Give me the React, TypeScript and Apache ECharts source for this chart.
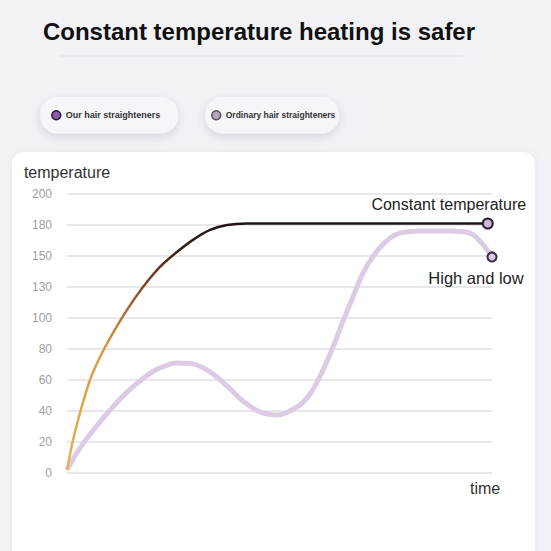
import React, { useEffect, useRef } from "react";
import * as echarts from "echarts";

const titleText = "Constant temperature heating is safer";
const seriesNames = ["Our hair straighteners", "Ordinary hair straighteners"];
const yTickLabels = ["0", "20", "40", "60", "80", "100", "130", "150", "180", "200"];

// x in percent of time span, y in tick-step units (index into yTickLabels)
const constantX = [0, 1.41, 3.06, 5.41, 7.76, 10.12, 14.12, 17.88, 21.88, 25.88, 29.65, 33.65, 37.65, 42.35, 55, 70, 85, 99];
const constantY = [0.1, 1.06, 1.94, 3.0, 3.74, 4.35, 5.26, 6.0, 6.65, 7.13, 7.52, 7.84, 8.0, 8.05, 8.05, 8.05, 8.05, 8.05];

const ordinaryX = [0, 3.06, 6.59, 10.12, 14.12, 18.35, 21.88, 25.88, 29.65, 33.65, 37.65, 41.41, 45.41, 49.41, 54.12, 57.18, 60.24, 62.59, 64.94, 67.29, 69.65, 72.94, 76, 78.35, 83.06, 90.12, 94.82, 100];
const ordinaryY = [0.1, 0.81, 1.45, 2.03, 2.61, 3.1, 3.39, 3.55, 3.52, 3.26, 2.81, 2.32, 1.97, 1.87, 2.13, 2.55, 3.32, 4.06, 4.9, 5.68, 6.45, 7.16, 7.58, 7.74, 7.81, 7.81, 7.74, 6.97];

const endLabels = ["Constant temperature", "High and low"];

export default function App() {
  const ref = useRef<HTMLDivElement>(null);
  useEffect(() => {
    document.body.style.margin = "0";
    const chart = echarts.init(ref.current!, null, { renderer: "svg" });
    const font = "'Liberation Sans', Arial, sans-serif";

    const constantData = constantX.map((x, i) => {
      if (i === constantX.length - 1) {
        return {
          value: [x, constantY[i]],
          symbol: "circle",
          symbolSize: 10,
          itemStyle: { color: "#cbb9da", borderColor: "#2a1e30", borderWidth: 2 },
          label: {
            show: true,
            position: "top",
            formatter: endLabels[0],
            color: "#222",
            fontSize: 16,
            offset: [-39, 0],
          },
        };
      }
      return { value: [x, constantY[i]], symbol: "none" };
    });

    const ordinaryData = ordinaryX.map((x, i) => {
      if (i === ordinaryX.length - 1) {
        return {
          value: [x, ordinaryY[i]],
          symbol: "circle",
          symbolSize: 9,
          itemStyle: { color: "#d9cbe2", borderColor: "#3a2a44", borderWidth: 2 },
          label: {
            show: true,
            position: "bottom",
            formatter: endLabels[1],
            color: "#222",
            fontSize: 16.5,
            offset: [-16, 2],
          },
        };
      }
      return { value: [x, ordinaryY[i]], symbol: "none" };
    });

    chart.setOption({
      animation: false,
      backgroundColor: "#f2f1f6",
      textStyle: { fontFamily: font },
      graphic: [
        {
          type: "rect",
          z: -10,
          shape: { x: 12, y: 152, width: 523, height: 420, r: 12 },
          style: { fill: "#ffffff", shadowBlur: 6, shadowColor: "rgba(0,0,0,0.05)" },
        },
        {
          type: "text",
          x: 259,
          y: 31,
          style: {
            text: titleText,
            fontSize: 24,
            fontWeight: "bold",
            fontFamily: font,
            fill: "#111",
            align: "center",
            verticalAlign: "middle",
          },
        },
        {
          type: "line",
          shape: { x1: 60, y1: 56, x2: 463, y2: 56 },
          style: { stroke: "#e2e1e8", lineWidth: 1 },
        },
      ],
      legend: [
        {
          left: 40,
          top: 97,
          selectedMode: false,
          orient: "horizontal",
          backgroundColor: "#f6f5fa",
          borderRadius: 18,
          padding: [13, 18, 13, 11],
          shadowBlur: 8,
          shadowOffsetY: 3,
          shadowColor: "rgba(60,50,90,0.15)",
          itemWidth: 9,
          itemHeight: 9,
          textStyle: { fontSize: 9, fontWeight: "bold", color: "#333" },
          data: [
            {
              name: seriesNames[0],
              icon: "circle",
              itemStyle: { color: "#8a5aa8", borderColor: "#2a1a3a", borderWidth: 1.5 },
            },
          ],
        },
        {
          left: 205,
          top: 97,
          selectedMode: false,
          orient: "horizontal",
          backgroundColor: "#f6f5fa",
          borderRadius: 18,
          padding: [13, 4, 13, 6],
          shadowBlur: 8,
          shadowOffsetY: 3,
          shadowColor: "rgba(60,50,90,0.15)",
          itemWidth: 9,
          itemHeight: 9,
          textStyle: { fontSize: 8.5, fontWeight: "bold", color: "#333" },
          data: [
            {
              name: seriesNames[1],
              icon: "circle",
              itemStyle: { color: "#b4a6bd", borderColor: "#555", borderWidth: 1.5 },
            },
          ],
        },
      ],
      grid: { left: 67, right: 59, top: 194, bottom: 78 },
      xAxis: {
        type: "value",
        min: 0,
        max: 100,
        name: "time",
        nameLocation: "end",
        nameGap: -22,
        nameTextStyle: {
          fontSize: 16,
          color: "#333",
          align: "left",
          verticalAlign: "top",
          padding: [7, 0, 0, 0],
        },
        axisLine: { show: false },
        axisTick: { show: false },
        axisLabel: { show: false },
        splitLine: { show: false },
      },
      yAxis: {
        type: "value",
        min: 0,
        max: 9,
        interval: 1,
        name: "temperature",
        nameLocation: "end",
        nameGap: 14,
        nameTextStyle: { fontSize: 16, color: "#333" },
        axisLine: { show: false },
        axisTick: { show: false },
        axisLabel: {
          color: "#a0a0a0",
          fontSize: 12,
          margin: 15,
          formatter: (v: number) => yTickLabels[Math.round(v)] ?? "",
        },
        splitLine: { show: true, lineStyle: { color: "#e0e0e4", width: 1.5 } },
      },
      series: [
        {
          name: seriesNames[1],
          type: "line",
          smooth: 0.35,
          showSymbol: true,
          showAllSymbol: true,
          symbol: "none",
          color: "#d9c8e2",
          lineStyle: { color: "#dccbe4", width: 5 },
          data: ordinaryData,
          z: 2,
        },
        {
          name: seriesNames[0],
          type: "line",
          smooth: 0.3,
          showSymbol: true,
          showAllSymbol: true,
          symbol: "none",
          color: "#2a1a1a",
          lineStyle: {
            width: 2.5,
            color: new echarts.graphic.LinearGradient(0, 0, 0, 1, [
              { offset: 0, color: "#1e1414" },
              { offset: 0.1, color: "#3a1e16" },
              { offset: 0.3, color: "#9a5a2a" },
              { offset: 0.5, color: "#d89a40" },
              { offset: 1, color: "#e8b35a" },
            ]),
          },
          data: constantData,
          z: 3,
        },
      ],
    });
    return () => chart.dispose();
  }, []);
  return <div ref={ref} style={{ width: 551, height: 551 }} />;
}
